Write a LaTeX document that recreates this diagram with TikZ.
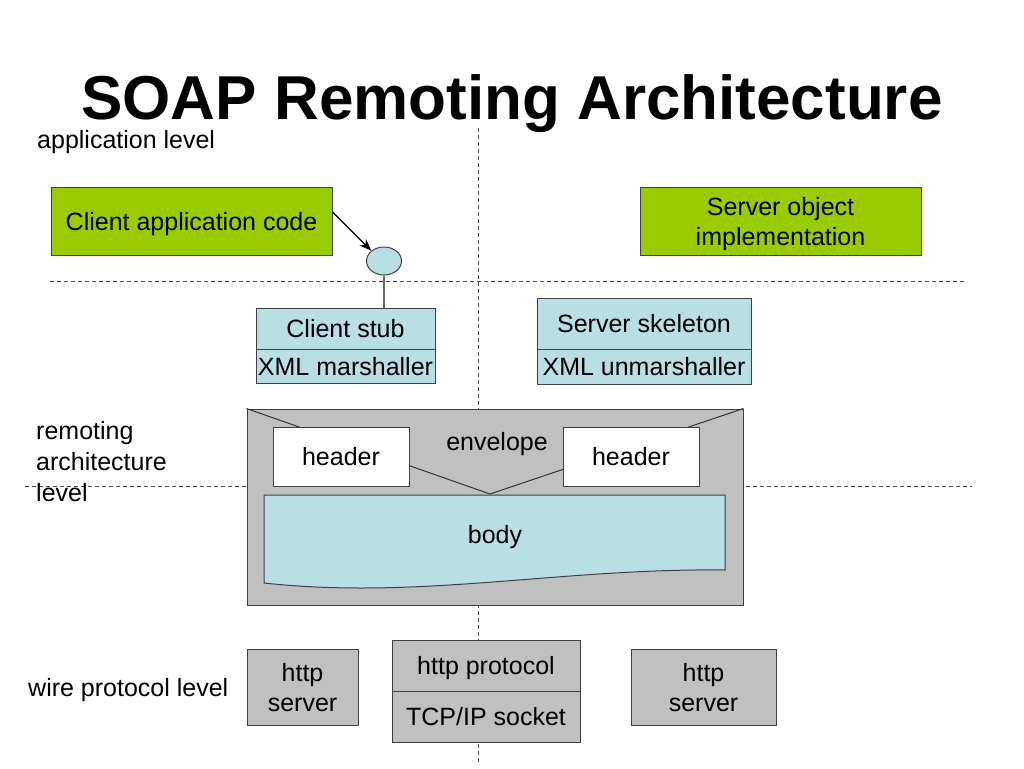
\documentclass[tikz,border=0pt]{standalone}
\usepackage{fontspec}
\setmainfont{Liberation Sans}
\usetikzlibrary{positioning, arrows.meta, shapes.geometric}
\definecolor{appgreen}{RGB}{153,204,0}
\definecolor{stubblue}{RGB}{185,223,228}
\definecolor{envgray}{RGB}{192,192,192}

\begin{document}
\begin{tikzpicture}[x=1pt, y=-1pt, font=\fontsize{25}{30}\selectfont,
    box/.style={draw=black!75, line width=1pt, inner sep=0pt, text depth=0pt, align=center},
    lbl/.style={anchor=base west, inner sep=0pt, align=left},
    level/.style={draw=black!70, line width=0.9pt, dash pattern=on 4pt off 3pt}]
            \useasboundingbox (0,0) rectangle (1024,768);
            % level separators
            \coordinate (VT) at (478,128);
            \coordinate (VB) at (478,762);
            \coordinate (H1L) at (50,281);
            \coordinate (H1R) at (965,281);
            \coordinate (H2L) at (25,486);
            \coordinate (H2R) at (972,486);
            \draw[level] (VT) -- (VB);
            \draw[level] (H1L) -- (H1R);
            \draw[level] (H2L) -- (H2R);
            \node[anchor=base, inner sep=0pt, text depth=0pt, font=\fontsize{62}{70}\selectfont\bfseries] (title) at (512,119) {SOAP Remoting Architecture};
            \node[lbl] (applvl) at (37,148) {application level};
            \node[lbl, font=\fontsize{25}{31}\selectfont] (remlvl) at (36,501) {remoting\\architecture\\level};
            \node[lbl] (wirelvl) at (28,696) {wire protocol level};
            % application level
            \node[box, fill=appgreen, minimum width=281pt, minimum height=68pt] (C) at (191.5,221) {Client application code};
            \node[box, fill=appgreen, minimum width=281pt, minimum height=68pt] (S) at (780.5,221) {Server object\\implementation};
            \node[ellipse, draw=black!75, line width=1pt, fill=stubblue, minimum width=35pt, minimum height=28pt] (I) at (384,261) {};
            % stub and skeleton
            \node[box, fill=stubblue, minimum width=179pt, minimum height=41pt] (stub) at (345.5,328.5) {Client stub};
            \node[box, fill=stubblue, minimum width=179pt, minimum height=34pt] (mar) at (345.5,366) {XML marshaller};
            \node[box, fill=stubblue, minimum width=214pt, minimum height=51pt] (skel) at (644,323.5) {Server skeleton};
            \node[box, fill=stubblue, minimum width=214pt, minimum height=35pt] (unmar) at (644,366.5) {XML unmarshaller};
            \draw[-{Stealth[length=12pt,width=9pt]}, line width=1.2pt] ([yshift=9pt]C.east) -- (I.north west);
            \draw[black!60, line width=1.5pt] (I.south) -- (I.south |- stub.north);
            % envelope
            \node[box, fill=envgray, minimum width=496pt, minimum height=196pt] (E) at (495,507) {};
            \coordinate (V) at (490,494);
            \draw[black!80, line width=1pt] (E.north west) -- (V) -- (E.north east);
            \node[box, fill=white, minimum width=136pt, minimum height=59pt] (HL) at (341,456.5) {header};
            \node[box, fill=white, minimum width=136pt, minimum height=59pt] (HR) at (631,456.5) {header};
            \node[text depth=0pt] (envlabel) at (497,441) {envelope};
            \draw[fill=stubblue, draw=black!75, line width=1pt] (264,495) -- (725,495) -- (725,570)
                .. controls (560,568) and (420,600) .. (264,583) -- cycle;
            \node[text depth=0pt] (body) at (495,534) {body};
            % wire protocol level
            \node[box, fill=envgray, minimum width=111pt, minimum height=76pt] (HSL) at (302.5,687) {http\\server};
            \node[box, fill=envgray, minimum width=188pt, minimum height=51pt] (proto) at (486,665.5) {http protocol};
            \node[box, fill=envgray, minimum width=188pt, minimum height=51pt] (sock) at (486,716.5) {TCP/IP socket};
            \node[box, fill=envgray, minimum width=145pt, minimum height=76pt] (HSR) at (703.5,687) {http\\server};
        \end{tikzpicture}
\end{document}
